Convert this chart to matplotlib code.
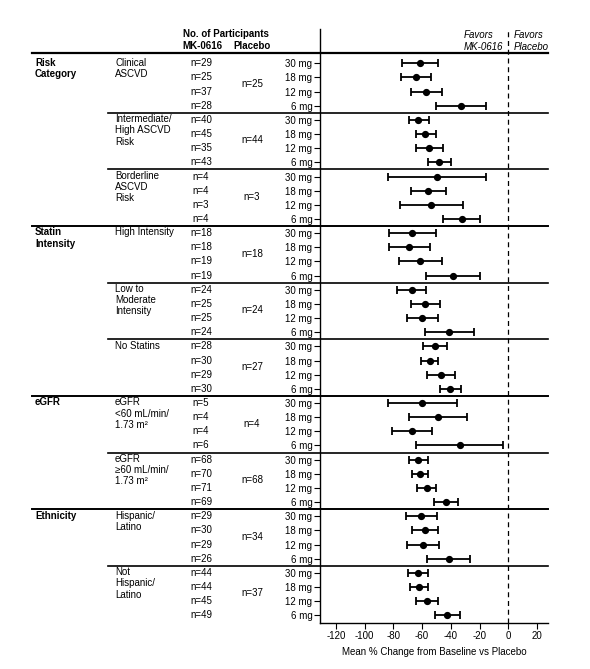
import matplotlib
matplotlib.use("Agg")
import matplotlib.pyplot as plt
import matplotlib.transforms as mtransforms

# Data

categories = ["Risk\nCategory", "Statin\nIntensity", "eGFR", "Ethnicity"]
# number of subgroups in each category
categoryGroups = [3, 3, 2, 2]

subgroups = [
    "Clinical\nASCVD",
    "Intermediate/\nHigh ASCVD\nRisk",
    "Borderline\nASCVD\nRisk",
    "High Intensity",
    "Low to\nModerate\nIntensity",
    "No Statins",
    "eGFR\n<60 mL/min/\n1.73 m\u00b2",
    "eGFR\n\u226560 mL/min/\n1.73 m\u00b2",
    "Hispanic/\nLatino",
    "Not\nHispanic/\nLatino",
]

doses = ["30 mg", "18 mg", "12 mg", "6 mg"]

nActive = [
    [29, 25, 37, 28],
    [40, 45, 35, 43],
    [4, 4, 3, 4],
    [18, 18, 19, 19],
    [24, 25, 25, 24],
    [28, 30, 29, 30],
    [5, 4, 4, 6],
    [68, 70, 71, 69],
    [29, 30, 29, 26],
    [44, 44, 45, 49],
]
nPlacebo = [25, 44, 3, 18, 24, 27, 4, 68, 34, 37]

meanChange = [
    [-61.5, -64.1, -57.3, -33.2],
    [-62.5, -57.8, -55.3, -48.3],
    [-49.7, -56.0, -53.6, -32.5],
    [-66.9, -69.0, -61.1, -38.5],
    [-67.3, -57.8, -59.7, -41.1],
    [-50.8, -54.8, -46.7, -40.4],
    [-59.7, -49.0, -66.9, -33.4],
    [-62.7, -61.5, -56.9, -43.6],
    [-60.4, -58.0, -59.2, -41.6],
    [-62.9, -62.0, -56.4, -42.5],
]
ciLow = [
    [-73.8, -74.5, -67.8, -50.4],
    [-69.4, -64.3, -63.9, -56.2],
    [-83.4, -67.8, -75.2, -45.3],
    [-83.1, -83.1, -75.9, -57.3],
    [-77.3, -67.8, -70.8, -57.9],
    [-59.4, -60.6, -56.7, -47.8],
    [-83.8, -69.4, -80.6, -63.9],
    [-69.0, -67.1, -63.4, -51.8],
    [-71.3, -66.9, -70.3, -56.4],
    [-70.1, -68.5, -64.1, -51.1],
]
ciHigh = [
    [-49.0, -53.6, -46.2, -15.8],
    [-55.0, -50.6, -45.7, -39.9],
    [-15.8, -43.4, -31.6, -19.5],
    [-50.4, -54.3, -46.0, -19.7],
    [-57.6, -47.8, -48.8, -23.9],
    [-42.7, -48.8, -37.1, -33.0],
    [-35.8, -28.8, -53.2, -3.7],
    [-56.0, -56.0, -50.2, -35.3],
    [-49.7, -49.0, -48.3, -26.7],
    [-55.7, -55.7, -48.8, -33.4],
]
xTicks = [-120, -100, -80, -60, -40, -20, 0, 20]

# Layout (pixels of the 590x669 figure)
W, H = 590, 669
FS = 7
plt.rcParams['font.family'] = ['Liberation Sans', 'DejaVu Sans']
plt.rcParams['axes.unicode_minus'] = False

fig = plt.figure(figsize=(W / 100, H / 100), dpi=100)
axLeft, axRight, axTop, axBottom = 320, 548, 29, 622.7
ax = fig.add_axes([axLeft / W, 1 - axBottom / H, (axRight - axLeft) / W, (axBottom - axTop) / H])

nRows = len(subgroups) * len(doses)
rows = list(range(nRows))
ax.set_ylim(39.52, -2.42)
ax.set_xlim(-131, 27.6)

# Forest plot
for g in range(len(subgroups)):
    for d in range(len(doses)):
        r = g * len(doses) + d
        m = meanChange[g][d]
        ax.errorbar(m, r, xerr=[[m - ciLow[g][d]], [ciHigh[g][d] - m]],
                    fmt='o', color='black', ms=4.2, elinewidth=1.3,
                    capsize=3.2, capthick=1.3)

ax.axvline(0, color='black', lw=0.9, ls=(0, (4, 3)))

ax.spines['top'].set_visible(False)
ax.spines['right'].set_visible(False)
ax.spines['left'].set_linewidth(1.0)
ax.spines['bottom'].set_linewidth(1.0)

ax.set_yticks(rows)
ax.set_yticklabels(doses * len(subgroups))
ax.tick_params(axis='y', length=4, width=0.8, pad=1.5, labelsize=FS)
ax.set_xticks(xTicks)
ax.tick_params(axis='x', length=4, width=0.8, pad=2, labelsize=FS)
ax.set_xlabel("Mean % Change from Baseline vs Placebo", fontsize=FS, labelpad=4)

# Left table, x in figure pixels, y in row units
trans = mtransforms.blended_transform_factory(fig.transFigure, ax.transData)

def fx(px):
    return px / W

def hline(row, x0, lw=1.2):
    ln = plt.Line2D([fx(x0), fx(axRight)], [row, row], transform=trans,
                    color='black', lw=lw, clip_on=False)
    fig.add_artist(ln)

row = 0
g = 0
for c, cat in enumerate(categories):
    fig.text(fx(35), row - 0.4, cat, transform=trans, fontsize=FS,
             fontweight='bold', va='top', ha='left', linespacing=1.15)
    for k in range(categoryGroups[c]):
        fig.text(fx(115), row - 0.4, subgroups[g], transform=trans,
                 fontsize=FS, va='top', ha='left', linespacing=1.15)
        for d in range(len(doses)):
            fig.text(fx(201), row + d, "n=%d" % nActive[g][d], transform=trans,
                     fontsize=FS, va='center', ha='center')
        fig.text(fx(252), row + 1.45, "n=%d" % nPlacebo[g], transform=trans,
                 fontsize=FS, va='center', ha='center')
        if k > 0:
            hline(row - 0.5, 108)
        row += len(doses)
        g += 1
    if c > 0:
        hline(row - len(doses) * categoryGroups[c] - 0.5, 32, 1.4)

# header
hline(-0.71, 32, 1.6)
fig.text(fx(226), 1 - 34 / H, "No. of Participants", fontsize=FS,
         fontweight='bold', ha='center', va='center')
fig.text(fx(202), 1 - 46 / H, "MK-0616", fontsize=FS,
         fontweight='bold', ha='center', va='center')
fig.text(fx(252), 1 - 46 / H, "Placebo", fontsize=FS,
         fontweight='bold', ha='center', va='center')
fig.text(fx(464), 1 - 30.5 / H, "Favors\nMK-0616", fontsize=FS,
         style='italic', ha='left', va='top', linespacing=1.15)
fig.text(fx(514), 1 - 30.5 / H, "Favors\nPlacebo", fontsize=FS,
         style='italic', ha='left', va='top', linespacing=1.15)

fig.savefig("out.png", dpi=100)
